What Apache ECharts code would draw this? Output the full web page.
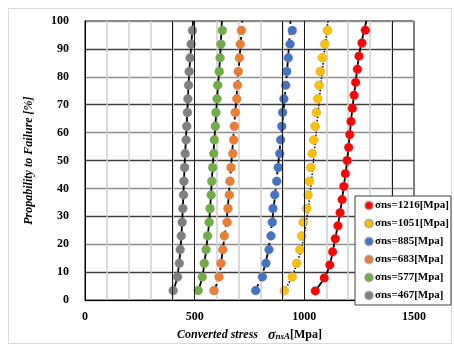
<!DOCTYPE html>
<html>
<head>
<meta charset="utf-8">
<script src="https://cdn.jsdelivr.net/npm/echarts@6/dist/echarts.min.js"></script>
<style>html,body{margin:0;padding:0;background:#fff;}#c{width:454px;height:347px;}</style>
</head>
<body>
<div id="c"></div>
<script>
// ---- data ----
const probs20 = [3.4, 8.3, 13.2, 18.1, 23.0, 27.9, 32.8, 37.7, 42.6, 47.5, 52.5, 57.4, 62.3, 67.2, 72.1, 77.0, 81.9, 86.8, 91.7, 96.6];
const probs21 = [3.3, 7.9, 12.6, 17.3, 22.0, 26.6, 31.3, 36.0, 40.7, 45.3, 50.0, 54.7, 59.3, 64.0, 68.7, 73.4, 78.0, 82.7, 87.4, 92.1, 96.7];

const names = ['σns=1216[Mpa]', 'σns=1051[Mpa]', 'σns=885[Mpa]', 'σns=683[Mpa]', 'σns=577[Mpa]', 'σns=467[Mpa]'];

const red    = [1050, 1091, 1116, 1129, 1141, 1153, 1163, 1172, 1180, 1187, 1195, 1202, 1207, 1213, 1219, 1227, 1234, 1242, 1249, 1263, 1278];
const yellow = [909, 945, 965, 980, 988, 995, 1011, 1017, 1023, 1029, 1036, 1043, 1049, 1055, 1061, 1067, 1073, 1082, 1093, 1105];
const blue   = [778, 809, 825, 839, 848, 854, 857, 865, 874, 881, 888, 892, 897, 901, 907, 915, 920, 927, 935, 945];
const orange = [588, 611, 620, 628, 635, 648, 652, 658, 661, 666, 674, 678, 681, 685, 692, 695, 699, 704, 708, 713];
const green  = [516, 535, 544, 552, 559, 566, 570, 575, 578, 582, 587, 590, 594, 597, 602, 605, 612, 616, 620, 626];
const gray   = [402, 422, 430, 434, 439, 443, 446, 449, 451, 454, 457, 461, 464, 467, 469, 472, 475, 479, 484, 490];

// fitted curves
const redFitX    = [1050, 1091, 1116, 1141, 1163, 1180, 1195, 1207, 1219, 1234, 1249, 1265, 1283];
const redFitP    = [3.3, 7.9, 12.6, 22, 31.3, 40.7, 50, 59.3, 68.7, 78, 87.4, 94, 100];
const yellowFitX = [909, 935, 962, 985, 1003, 1018, 1030, 1042, 1054, 1066, 1079, 1093, 1108];
const yellowFitP = [3.4, 7, 12, 18, 25, 33, 41, 50, 60, 70, 80, 90, 100];
const blueFitX   = [776, 805, 836, 853, 867, 880, 893, 905, 917, 928, 937];
const blueFitP   = [3.4, 8.3, 18, 28, 38, 48, 58, 68, 78, 89, 100];
const orangeFitX = [588, 611, 628, 645, 660, 672, 683, 695, 706, 717];
const orangeFitP = [3.4, 8.3, 18, 28, 42, 54, 65, 77, 88, 100];
const greenFitX  = [516, 535, 552, 566, 580, 592, 602, 615, 624];
const greenFitP  = [3.4, 8.3, 18, 28, 45, 60, 72, 86, 100];
const grayFitX   = [402, 421, 437, 447, 455, 465, 474, 485, 493];
const grayFitP   = [3.4, 8.3, 20, 35, 50, 65, 80, 92, 100];

const xTicks = [0, 500, 1000, 1500];
const yTicks = [0, 10, 20, 30, 40, 50, 60, 70, 80, 90, 100];
const darkXLines = [400, 500, 900, 1000, 1400];

// ---- styles ----
const colors = ['#FF0000', '#FFC000', '#4472C4', '#ED7D31', '#70AD47', '#7F7F7F'];
const lineTypes = ['solid', 'dotted', 'dashed', 'dashed', 'solid', 'solid'];
const serif = '"Liberation Serif", "Times New Roman", serif';

const pts = [red, yellow, blue, orange, green, gray];
const ptsP = [probs21, probs20, probs20, probs20, probs20, probs20];
const fitsX = [redFitX, yellowFitX, blueFitX, orangeFitX, greenFitX, grayFitX];
const fitsP = [redFitP, yellowFitP, blueFitP, orangeFitP, greenFitP, grayFitP];

const series = [];
// dark vertical grid lines
series.push({
  type: 'line', data: [], silent: true,
  markLine: {
    silent: true, symbol: 'none', label: {show: false},
    lineStyle: {color: '#1a1a1a', width: 1, type: 'solid'},
    data: darkXLines.map(v => ({xAxis: v}))
  }
});
for (let i = 0; i < 6; i++) {
  series.push({
    name: 'fit' + i, type: 'line', showSymbol: false, symbol: 'none', smooth: 0.3,
    data: fitsX[i].map((x, k) => [x, fitsP[i][k]]),
    lineStyle: {color: '#000', width: lineTypes[i] === 'dotted' ? 1.5 : 1.8, type: lineTypes[i]},
    z: 3, silent: true
  });
}
for (let i = 0; i < 6; i++) {
  series.push({
    name: names[i], type: 'scatter', symbol: 'circle', symbolSize: 9,
    data: pts[i].map((x, k) => [x, ptsP[i][k]]),
    itemStyle: {color: colors[i], borderColor: 'rgba(150,150,150,0.6)', borderWidth: 0.6, opacity: 1},
    z: 4
  });
}

const chart = echarts.init(document.getElementById('c'), null, {renderer: 'canvas'});
chart.setOption({
  animation: false,
  backgroundColor: '#fff',
  graphic: [{
    type: 'rect', left: 6, top: 6, shape: {width: 443, height: 335},
    style: {fill: 'none', stroke: '#d9d9d9', lineWidth: 1}, silent: true, z: -10
  }],
  grid: {left: 85, top: 21, right: 40, bottom: 44, show: true, borderColor: '#000', borderWidth: 1, backgroundColor: 'transparent'},
  legend: {
    orient: 'vertical', left: 355, top: 196,
    data: names,
    icon: 'circle', itemWidth: 8, itemHeight: 8, itemGap: 7,
    padding: [4, 2, 4, 9],
    backgroundColor: '#fff', borderColor: '#404040', borderWidth: 1,
    textStyle: {fontFamily: serif, fontWeight: 'bold', fontSize: 11, color: '#000', padding: [0, 0, 0, -3]},
    z: 10
  },
  xAxis: {
    type: 'value', min: 0, max: 1500, interval: 500,
    axisLine: {show: true, lineStyle: {color: '#000', width: 1}},
    axisTick: {show: false},
    axisLabel: {fontFamily: serif, fontWeight: 'bold', fontSize: 12, color: '#000', margin: 11,
      formatter: v => xTicks.includes(v) ? String(v) : ''},
    splitLine: {show: false},
    minorTick: {show: false, splitNumber: 5},
    minorSplitLine: {show: true, lineStyle: {color: '#d0d0d0', width: 1.5}},
    name: '{a|Converted stress}   {b|σ}{c|nsA}{d|[Mpa]}',
    nameLocation: 'middle', nameGap: 19,
    nameTextStyle: {
      rich: {
        a: {fontFamily: serif, fontWeight: 'bold', fontStyle: 'italic', fontSize: 12, color: '#000'},
        b: {fontFamily: serif, fontWeight: 'bold', fontStyle: 'italic', fontSize: 14, color: '#000'},
        c: {fontFamily: serif, fontWeight: 'bold', fontStyle: 'italic', fontSize: 9, color: '#000', padding: [4, 0, 0, 0]},
        d: {fontFamily: serif, fontWeight: 'bold', fontSize: 12, color: '#000'}
      }
    }
  },
  yAxis: {
    type: 'value', min: 0, max: 100, interval: 10,
    axisLine: {show: true, lineStyle: {color: '#000', width: 1}},
    axisTick: {show: false},
    axisLabel: {fontFamily: serif, fontWeight: 'bold', fontSize: 12, color: '#000', margin: 16,
      formatter: v => yTicks.includes(v) ? String(v) : ''},
    splitLine: {show: true, lineStyle: {color: ['#909090', '#404040'], width: 1.3}},
    name: 'Propability to Failure [%]',
    nameLocation: 'middle', nameGap: 50, nameRotate: 90,
    nameTextStyle: {fontFamily: serif, fontWeight: 'bold', fontStyle: 'italic', fontSize: 12, color: '#000'}
  },
  series: series
});
</script>
</body>
</html>
